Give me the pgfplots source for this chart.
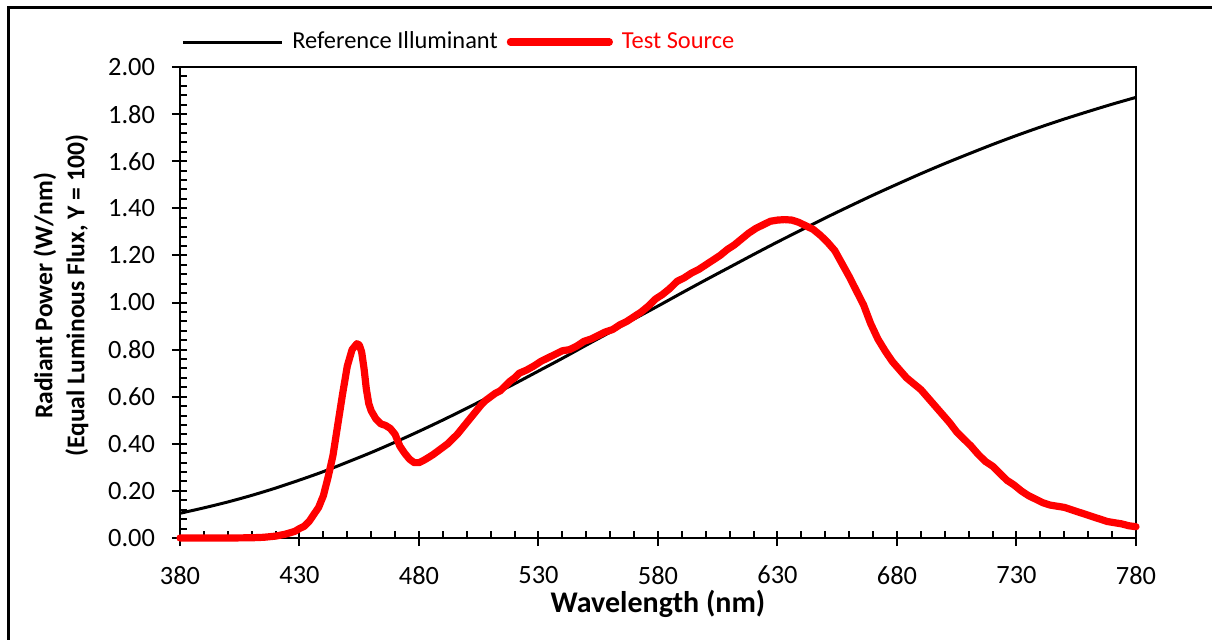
\documentclass[border=0pt]{standalone}
\usepackage{pgfplots}
\pgfplotsset{compat=1.18}
\usepackage{pgfplotstable}
\usepackage{fontspec}
\setmainfont{Carlito}

% reference illuminant (blackbody, equal luminous flux)
\pgfplotstableread{
wl    p
380 0.105
390 0.128
400 0.153
410 0.181
420 0.212
430 0.246
440 0.282
450 0.322
460 0.363
470 0.407
480 0.453
490 0.501
500 0.551
510 0.603
520 0.655
530 0.709
540 0.763
550 0.819
560 0.874
570 0.930
580 0.985
590 1.041
600 1.096
610 1.150
620 1.204
630 1.257
640 1.308
650 1.359
660 1.408
670 1.456
680 1.502
690 1.547
700 1.590
710 1.631
720 1.671
730 1.709
740 1.745
750 1.779
760 1.811
770 1.842
780 1.871
}\refill

% test source spectrum
\pgfplotstableread{
wl    p
380 0.000
390 0.000
400 0.000
410 0.001
415 0.003
420 0.008
424 0.016
428 0.028
430 0.040
432 0.050
434 0.070
436 0.100
438 0.130
440 0.180
442 0.260
444 0.350
446 0.480
448 0.610
450 0.730
452 0.800
454 0.825
455 0.820
456 0.790
457 0.720
458 0.630
459 0.570
460 0.540
462 0.505
464 0.485
466 0.478
468 0.465
470 0.440
472 0.390
474 0.360
476 0.335
478 0.320
480 0.320
482 0.330
484 0.342
486 0.355
488 0.370
490 0.385
492 0.400
494 0.420
496 0.440
498 0.465
500 0.490
502 0.515
504 0.540
506 0.565
508 0.585
510 0.600
512 0.615
514 0.625
516 0.645
518 0.665
520 0.680
522 0.700
525 0.713
528 0.730
531 0.750
534 0.765
537 0.780
540 0.795
543 0.800
546 0.815
549 0.835
552 0.845
555 0.860
558 0.875
561 0.885
564 0.905
567 0.920
570 0.940
573 0.960
576 0.985
579 1.015
582 1.035
585 1.060
588 1.090
591 1.105
594 1.125
597 1.140
600 1.160
603 1.180
606 1.200
609 1.225
612 1.245
615 1.270
618 1.295
621 1.315
624 1.330
627 1.345
630 1.350
633 1.352
636 1.350
639 1.340
642 1.325
645 1.310
648 1.285
651 1.255
654 1.220
657 1.165
660 1.110
663 1.050
666 0.990
669 0.910
672 0.845
675 0.795
678 0.750
681 0.715
684 0.680
687 0.655
690 0.630
693 0.595
696 0.560
699 0.525
702 0.490
705 0.450
708 0.420
711 0.390
714 0.355
717 0.325
720 0.305
723 0.275
726 0.245
729 0.225
732 0.200
735 0.180
738 0.165
741 0.150
744 0.140
747 0.135
750 0.130
753 0.120
756 0.110
759 0.100
762 0.090
765 0.080
768 0.070
771 0.065
774 0.060
777 0.052
780 0.048
}\testsrc

\begin{document}
\begin{tikzpicture}
\useasboundingbox (0,0) rectangle (606pt,319.5pt);
\draw[line width=1.5pt] (4pt,-2pt) -- (4pt,315.5pt) -- (608pt,315.5pt);
\begin{axis}[
  at={(90pt,50.5pt)}, anchor=south west,
  scale only axis, width=478pt, height=235.5pt,
  xmin=380, xmax=780, ymin=0, ymax=2,
  xtick={380,430,...,780},
  ytick={0,0.2,0.4,0.6,0.8,1.0,1.2,1.4,1.6,1.8,2.0},
  minor x tick num=4, minor y tick num=4,
  tick pos=left, tick align=inside,
  major tick length=3.5pt, minor tick length=3.5pt,
  every tick/.style={black, line width=1pt},
  extra x ticks={380,430,...,780}, extra x tick labels={},
  extra y ticks={0,0.2,0.4,0.6,0.8,1.0,1.2,1.4,1.6,1.8,2.0}, extra y tick labels={},
  extra tick style={tick align=outside, major tick length=4pt},
  axis line style={line width=0.8pt},
  clip=false,
  tick label style={font=\fontsize{13.2}{15}\selectfont, /pgf/number format/assume math mode=true},
  xticklabel style={yshift=-10.5pt},
  yticklabel style={xshift=-9pt, /pgf/number format/.cd, fixed, fixed zerofill, precision=2},
  xlabel={Wavelength (nm)},
  ylabel={Radiant Power (W/nm)\\(Equal Luminous Flux, Y = 100)},
  every axis x label/.style={at={(axis description cs:0.5,0)}, anchor=center, yshift=-33pt,
    font=\fontsize{15}{17}\selectfont\bfseries},
  every axis y label/.style={at={(axis description cs:-0.1245,0.514)}, anchor=center, rotate=90,
    align=center, font=\fontsize{12.8}{16}\selectfont\bfseries},
  legend columns=-1,
  legend style={draw=none, fill=none, at={(axis description cs:0,1)}, anchor=west,
    yshift=12.5pt, xshift=0.5pt, inner sep=0pt, font=\fontsize{12.2}{14}\selectfont,
    /tikz/every odd column/.append style={column sep=2.5pt},
    /tikz/every even column/.append style={column sep=2.5pt}},
  legend image code/.code={\draw[#1] (0pt,0pt) -- (49.5pt,0pt);},
]
\draw[line width=1.3pt] (rel axis cs:0,1) -- (rel axis cs:0,0) -- (rel axis cs:1,0);
\addplot[black, line width=1.5pt, smooth] table[x=wl, y=p] {\refill};
\addlegendentry{Reference Illuminant}
\addplot[red, line width=3.6pt, line join=round, line cap=round] table[x=wl, y=p] {\testsrc};
\addlegendentry{\textcolor{red}{Test Source}}
\end{axis}
\end{tikzpicture}
\end{document}
